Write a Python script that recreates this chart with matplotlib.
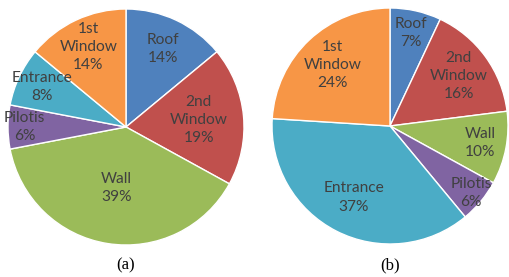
import matplotlib
matplotlib.use("Agg")
import matplotlib.pyplot as plt
import numpy as np

categories = ["Roof", "2nd\nWindow", "Wall", "Pilotis", "Entrance", "1st\nWindow"]
share_a = [14, 19, 39, 6, 8, 14]
share_b = [7, 16, 10, 6, 37, 24]
captions = ["(a)", "(b)"]

colors = ["#4F81BD", "#C0504D", "#9BBB59", "#8064A2", "#4BACC6", "#F79646"]
# radial position of each label (fraction of radius), chosen per chart
label_r_a = [0.73, 0.62, 0.52, 0.86, 0.79, 0.75]
label_r_b = [0.81, 0.72, 0.78, 0.89, 0.68, 0.71]

W, H = 509, 277
fig = plt.figure(figsize=(W / 100, H / 100), dpi=100)


def draw_pie(cx, cy, r, values, label_r, caption):
    # cx, cy in pixels from top-left
    ax = fig.add_axes([(cx - r) / W, (H - cy - r) / H, 2 * r / W, 2 * r / H])
    wedges, _ = ax.pie(values, colors=colors, startangle=90, counterclock=False,
                       wedgeprops=dict(edgecolor="white", linewidth=1.0))
    for w in wedges:
        w.set_clip_on(False)
    ax.set_xlim(-1, 1)
    ax.set_ylim(-1, 1)
    ax.axis("off")
    for w, name, v, lr in zip(wedges, categories, values, label_r):
        ang = np.deg2rad((w.theta1 + w.theta2) / 2)
        ax.text(lr * np.cos(ang), lr * np.sin(ang), f"{name}\n{v}%",
                ha="center", va="center", fontsize=11.2, color="#404040",
                family=["Lato", "DejaVu Sans"], linespacing=1.38)
    fig.text(cx / W, 1 - 265 / H, caption, ha="center", va="center",
             fontsize=12, family="Liberation Serif", color="black")


draw_pie(126, 127, 118, share_a, label_r_a, captions[0])
draw_pie(390, 126, 118, share_b, label_r_b, captions[1])

fig.savefig("out.png", dpi=100)
